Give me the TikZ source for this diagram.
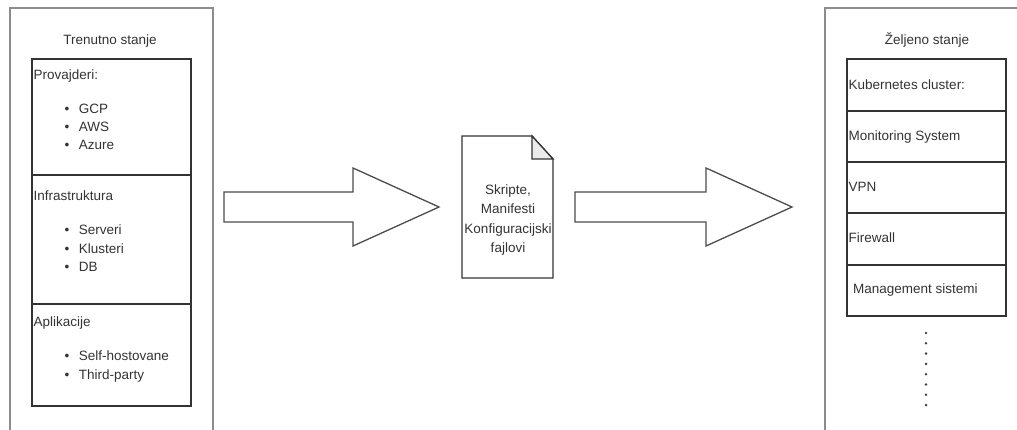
\documentclass[tikz,border=0pt]{standalone}
\usepackage{fontspec}
\setmainfont{Liberation Sans}
\tikzset{
  frame/.style={draw=black!45, line width=1.6pt},
  listbox/.style={draw=black!80, line width=1.4pt},
  bigarrow/.style={draw=black!70, line width=1.3pt, line join=miter},
  heading/.style={anchor=base, inner sep=0pt},
  entry/.style={anchor=base west, inner sep=0pt},
  bulleted/.style={anchor=base west, inner sep=0pt}
}
\begin{document}
\begin{tikzpicture}[x=1pt, y=-1pt, font=\fontsize{13.5}{19.5}\selectfont, text=black!80]
  \useasboundingbox (0,0) rectangle (1017,430);

  % outer frames (open at the edges of the picture)
  \draw[frame] (10,430) -- (10,8) -- (213,8) -- (213,430);
  \draw[frame] (825,430) -- (825,8) -- (1017,8);

  % titles
  \node[heading] (trenutno) at (110,45) {Trenutno stanje};
  \node[heading] (zeljeno) at (927,45) {Željeno stanje};

  % left list box
  \draw[listbox] (32,59) rectangle (191,406);
  \draw[listbox] (32,175) -- (191,175); \draw[listbox] (32,304) -- (191,304);
  \node[entry] (provajderi) at (33.5,80) {Provajderi:};
  \node[entry] (infra) at (33.5,201) {Infrastruktura};
  \node[entry] (aplikacije) at (33.5,326) {Aplikacije};
  \foreach \name/\y/\txt in {gcp/114/GCP, aws/132/AWS, azure/150/Azure,
      serveri/235/Serveri, klusteri/254/Klusteri, db/272/DB,
      selfhost/360/Self-hostovane, thirdparty/379/Third-party}
    \node[bulleted] (\name) at (64.5,\y) {\textbullet\hspace{9.5pt}\txt};

  % arrows
  \draw[bigarrow] (224,192) -- (353,192) -- (353,168) -- (439,207)
    -- (353,246) -- (353,222) -- (224,222) -- cycle;
  \draw[bigarrow] (575,192) -- (706,192) -- (706,168) -- (792,207)
    -- (706,246) -- (706,222) -- (575,222) -- cycle;

  % document in the middle
  \draw[listbox, line width=1.3pt, line join=miter] (462,136) -- (532,136)
    -- (553,159) -- (553,278) -- (462,278) -- cycle;
  \draw[listbox, line width=1.3pt, fill=black!8] (532,136) -- (532,159)
    -- (553,159) -- cycle;
  \node[align=center, inner sep=0pt] (skripte) at (508,220)
    {Skripte,\\ Manifesti\\ Konfiguracijski\\ fajlovi};

  % right list box
  \draw[listbox] (847,59) rectangle (1006,316);
  \foreach \y in {111,162,213,265} \draw[listbox] (847,\y) -- (1006,\y);
  \node[entry] (kubernetes) at (848.5,90) {Kubernetes cluster:};
  \node[entry] (monitoring) at (848.5,141) {Monitoring System};
  \node[entry] (vpn) at (848.5,192) {VPN};
  \node[entry] (firewall) at (848.5,243) {Firewall};
  \node[entry] (management) at (853,294) {Management sistemi};

  % dots
  \foreach \k in {0,...,7} \fill[black!75] (926,333+10.3*\k) circle (1.4);
\end{tikzpicture}
\end{document}
